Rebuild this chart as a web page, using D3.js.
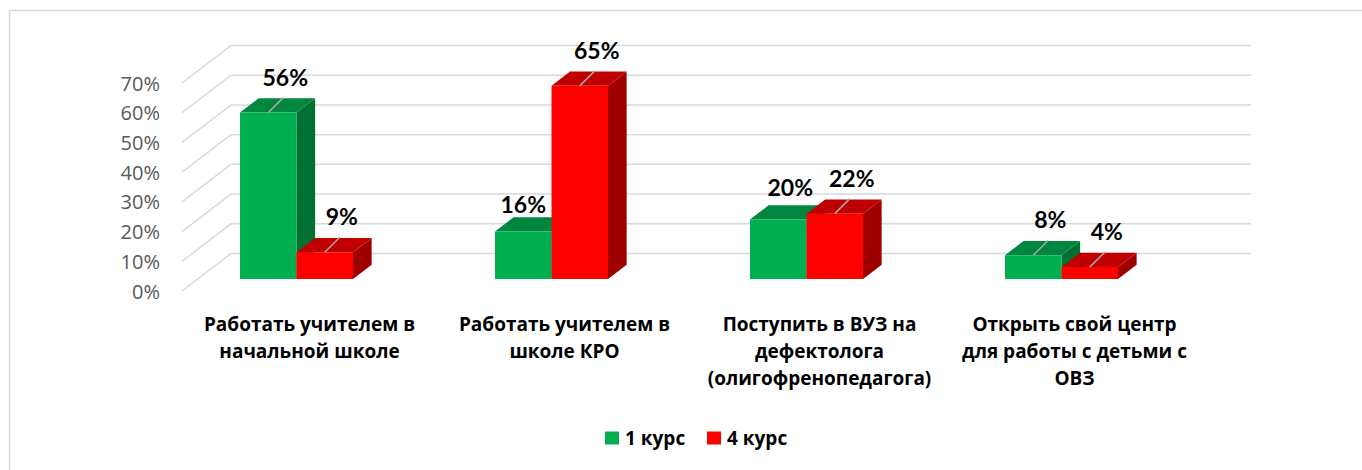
<!DOCTYPE html>
<html>
<head>
<meta charset="utf-8">
<script src="https://cdn.jsdelivr.net/npm/d3@7"></script>
<style>
	body { margin: 0; background: #fff; }
	svg { display: block; }
</style>
</head>
<body>
<div id="chart"></div>
<script>
//data
const categories = [
	'Работать учителем в\nначальной школе',
	'Работать учителем в\nшколе КРО',
	'Поступить в ВУЗ на\nдефектолога\n(олигофренопедагога)',
	'Открыть свой центр\nдля работы с детьми с\nОВЗ',
];
const seriesNames = ['1 курс', '4 курс'];
const course1 = [0.56, 0.16, 0.2, 0.08];
const course4 = [0.09, 0.65, 0.22, 0.04];
const tickValues = [0, 0.1, 0.2, 0.3, 0.4, 0.5, 0.6, 0.7];

const seriesValues = [course1, course4];

render();

function render() {
	let props = {
		width: 1362,
		height: 470,
		faceColors: [
			{ front: '#00b050', top: '#00873d', side: '#007033' },
			{ front: '#ff0000', top: '#c00000', side: '#9e0000' },
		],
		gridColor: '#d9d9d9',
		tickColor: '#595959',
		fontFamily: '"Open Sans", "Noto Sans", sans-serif',
		labelFont: 'Lato, "Noto Sans", sans-serif',
	};
	createVisualization(d3.select('#chart'), props);
}

function createVisualization(container, props) {
	let { width, height, faceColors, gridColor, tickColor, fontFamily, labelFont } = props;

	// depth vector of the 3d floor (front plane -> back wall)
	const DX = 49;
	const DY = -37.5;
	const d0 = 0.32; // bar front
	const d1 = 0.7; // bar back

	let x = d3.scaleBand().domain(d3.range(categories.length)).range([182, 1202]);
	let y = d3.scaleLinear().domain([0, 0.7]).range([291, 83]);
	const step = x.step();
	const barW = step * 0.2216;
	const barOffset = step * 0.166;

	const proj = (xf, v, d) => [xf + d * DX, y(v) + d * DY];
	const poly = (pts) => 'M' + pts.map((p) => p.join(',')).join('L') + 'Z';

	let svg = container
		.append('svg')
		.attr('width', width)
		.attr('height', height)
		.attr('font-family', fontFamily);

	// chart border
	svg
		.append('rect')
		.attr('x', 9.5)
		.attr('y', 10.5)
		.attr('width', width + 20)
		.attr('height', height + 20)
		.attr('fill', 'none')
		.attr('stroke', gridColor)
		.attr('stroke-width', 1.5);

	//gridlines
	let [x0, x1] = x.range();
	svg
		.append('g')
		.selectAll('path')
		.data(tickValues)
		.enter()
		.append('path')
		.attr('d', (t) => {
			let a = proj(x0, t, 0);
			let b = proj(x0, t, 1);
			let c = proj(x1, t, 1);
			return `M${a}L${b}L${c}`;
		})
		.attr('fill', 'none')
		.attr('stroke', gridColor)
		.attr('stroke-width', 1.5);

	//tick labels
	svg
		.append('g')
		.selectAll('text')
		.data(tickValues)
		.enter()
		.append('text')
		.attr('x', 160)
		.attr('y', (t) => y(t))
		.attr('text-anchor', 'end')
		.attr('dominant-baseline', 'central')
		.attr('fill', tickColor)
		.attr('font-size', 20)
		.text(d3.format('.0%'));

	//bars
	let bars = [];
	categories.forEach((c, i) => {
		seriesValues.forEach((vals, s) => {
			let xl = x(i) + barOffset + s * barW;
			bars.push({ i, s, v: vals[i], xl, xr: xl + barW });
		});
	});

	let barG = svg
		.append('g')
		.selectAll('g')
		.data(bars)
		.enter()
		.append('g');

	barG
		.append('path')
		.attr('d', (d) =>
			poly([proj(d.xr, 0, d0), proj(d.xr, 0, d1), proj(d.xr, d.v, d1), proj(d.xr, d.v, d0)])
		)
		.attr('fill', (d) => faceColors[d.s].side);

	barG
		.append('path')
		.attr('d', (d) =>
			poly([proj(d.xl, d.v, d0), proj(d.xr, d.v, d0), proj(d.xr, d.v, d1), proj(d.xl, d.v, d1)])
		)
		.attr('fill', (d) => faceColors[d.s].top);

	barG
		.append('path')
		.attr('d', (d) =>
			poly([proj(d.xl, 0, d0), proj(d.xr, 0, d0), proj(d.xr, d.v, d0), proj(d.xl, d.v, d0)])
		)
		.attr('fill', (d) => faceColors[d.s].front);

	//data labels (two of them sit close to the bar, without a leader)
	const closeLabels = { '1-0': [0, -27], '2-0': [12, -33] };
	bars.forEach((d) => {
		let [cx, top] = proj((d.xl + d.xr) / 2, d.v, d0);
		let near = closeLabels[d.i + '-' + d.s];
		let off = near || [17, -36];
		if (!near) {
			svg
				.append('line')
				.attr('x1', cx)
				.attr('y1', top)
				.attr('x2', cx + 15)
				.attr('y2', top - 15)
				.attr('stroke', '#a6a6a6')
				.attr('stroke-width', 1.5);
		}
		svg
			.append('text')
			.attr('x', cx + off[0])
			.attr('y', top + off[1])
			.attr('text-anchor', 'middle')
			.attr('dominant-baseline', 'central')
			.attr('font-family', labelFont)
			.attr('font-size', 23)
			.attr('font-weight', 'bold')
			.attr('fill', '#000')
			.text(d3.format('.0%')(d.v));
	});

	//category labels
	let catText = svg
		.append('g')
		.selectAll('text')
		.data(categories)
		.enter()
		.append('text')
		.attr('text-anchor', 'middle')
		.attr('font-size', 19)
		.attr('font-weight', 'bold')
		.attr('fill', '#000');

	catText.each(function (c, i) {
		let t = d3.select(this);
		c.split('\n').forEach((line, k) => {
			t.append('tspan')
				.attr('x', x(i) + step / 2)
				.attr('y', 324 + k * 27)
				.attr('dominant-baseline', 'central')
				.text(line);
		});
	});

	//legend
	let legend = svg.append('g').attr('transform', translation(605, 438));
	let item = legend
		.selectAll('g')
		.data(seriesNames)
		.enter()
		.append('g')
		.attr('transform', (d, i) => translation(i * 102, 0));
	item
		.append('rect')
		.attr('x', 0)
		.attr('y', -6.5)
		.attr('width', 14)
		.attr('height', 13)
		.attr('fill', (d, i) => faceColors[i].front);
	item
		.append('text')
		.attr('x', 20)
		.attr('y', 0)
		.attr('dominant-baseline', 'central')
		.attr('font-size', 19)
		.attr('font-weight', 'bold')
		.text((d) => d);
}

//utils
function translation(x, y) {
	return `translate(${x}, ${y})`;
}
</script>
</body>
</html>
